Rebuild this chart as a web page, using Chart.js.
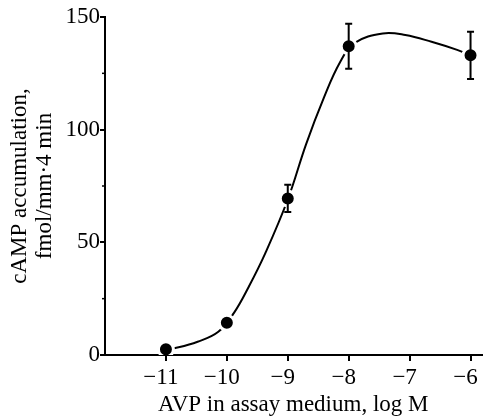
<!DOCTYPE html>
<html><head><meta charset="utf-8">
<script src="https://cdn.jsdelivr.net/npm/chart.js@4"></script>
<style>html,body{margin:0;padding:0;background:#fff}#wrap{width:492px;height:419px;position:relative}</style>
</head><body><div id="wrap"><canvas id="c"></canvas></div>
<script>
// Measured data points (log M AVP vs cAMP accumulation)
const doseLogM = [-11, -10, -9, -8, -6];
const cAMP = [2.5, 14.3, 69.5, 137, 133];
const sem = [0, 0, 6, 10, 10.5];
// Fitted curve
const curveLogM = [-11, -10.86, -10.48, -10.14, -9.88, -9.64, -9.37, -9.0, -8.70, -8.41, -8.14, -7.9, -7.44, -7.07, -6.64, -6.22, -6.0];
const curveCAMP = [2.5, 3.0, 5.9, 10.3, 18.8, 30.3, 45.1, 69.0, 93.5, 114.0, 130.0, 138.5, 142.7, 142.0, 139.0, 135.4, 133.0];
const xTicks = [-11, -10, -9, -8, -7, -6];
const yTicks = [0, 50, 100, 150];
const yMinorTicks = [25, 75, 125];

const FONT = "'Liberation Serif', 'Times New Roman', serif";

const errorBars = {
  id: 'errorBars',
  afterDatasetsDraw(chart) {
    const {ctx, scales: {x, y}} = chart;
    ctx.save();
    ctx.strokeStyle = '#000';
    ctx.lineWidth = 2;
    doseLogM.forEach((d, i) => {
      if (!sem[i]) return;
      const px = x.getPixelForValue(d);
      const yt = y.getPixelForValue(cAMP[i] + sem[i]);
      const yb = y.getPixelForValue(cAMP[i] - sem[i]);
      ctx.beginPath();
      ctx.moveTo(px, yt); ctx.lineTo(px, yb);
      ctx.moveTo(px - 3.5, yt); ctx.lineTo(px + 3.5, yt);
      ctx.moveTo(px - 3.5, yb); ctx.lineTo(px + 3.5, yb);
      ctx.stroke();
    });
    ctx.restore();
  },
  afterDraw(chart) {
    const {ctx, scales: {y}, chartArea} = chart;
    ctx.save();
    ctx.strokeStyle = '#000';
    ctx.lineWidth = 1.5;
    yMinorTicks.forEach(v => {
      const py = y.getPixelForValue(v);
      ctx.beginPath();
      ctx.moveTo(chartArea.left - 3, py); ctx.lineTo(chartArea.left, py);
      ctx.stroke();
    });
    ctx.restore();
  }
};

const minus = v => (v < 0 ? '\u2212' : '') + Math.abs(v);

new Chart(document.getElementById('c'), {
  type: 'scatter',
  data: {
    datasets: [
      {
        type: 'scatter',
        data: doseLogM.map((d, i) => ({x: d, y: cAMP[i]})),
        pointRadius: 7.5,
        pointHoverRadius: 7.5,
        backgroundColor: '#000',
        borderColor: '#fff',
        borderWidth: 3,
        order: 0
      },
      {
        type: 'line',
        data: curveLogM.map((d, i) => ({x: d, y: curveCAMP[i]})),
        borderColor: '#000',
        borderWidth: 2,
        pointRadius: 0,
        fill: false,
        tension: 0.4,
        order: 1
      }
    ]
  },
  options: {
    responsive: true,
    maintainAspectRatio: false,
    animation: false,
    devicePixelRatio: 1,
    layout: {padding: {top: 17, right: 0, left: 0, bottom: 0}},
    plugins: {legend: {display: false}, tooltip: {enabled: false}},
    scales: {
      x: {
        type: 'linear',
        min: -12,
        max: -5.82,
        z: 1,
        afterBuildTicks: s => { s.ticks = xTicks.map(v => ({value: v})); },
        afterFit: s => { s.height = 64; },
        border: {color: '#000', width: 2},
        grid: {drawOnChartArea: false, color: '#000', tickLength: 6, lineWidth: 2},
        ticks: {
          color: '#000', font: {family: FONT, size: 23}, padding: 3,
          labelOffset: -5, maxRotation: 0, autoSkip: false,
          callback: v => minus(v)
        },
        title: {
          display: true, text: 'AVP in assay medium, log M', color: '#000',
          font: {family: FONT, size: 23}, padding: {top: 0, bottom: 0}
        }
      },
      y: {
        type: 'linear',
        min: 0,
        max: 150,
        afterBuildTicks: s => { s.ticks = yTicks.map(v => ({value: v})); },
        afterFit: s => { s.width = 105; },
        border: {color: '#000', width: 2},
        grid: {drawOnChartArea: false, color: '#000', tickLength: 5, lineWidth: 2},
        ticks: {color: '#000', font: {family: FONT, size: 23}, padding: 0, callback: v => minus(v)},
        title: {
          display: true, text: ['cAMP accumulation,', 'fmol/mm\u00b74 min'], color: '#000',
          font: {family: FONT, size: 23, lineHeight: 1.1}, padding: {top: 7, bottom: 0}
        }
      }
    }
  },
  plugins: [errorBars]
});
</script>
</body></html>
